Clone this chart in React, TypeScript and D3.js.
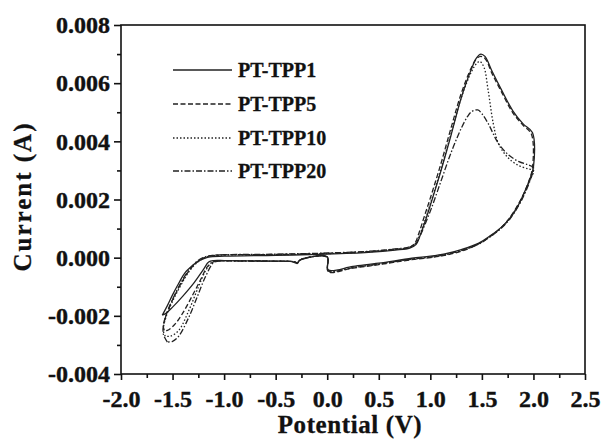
import React, { useEffect, useRef } from "react";
import * as d3 from "d3";

type P = [number, number];

// Potential (V), Current (A)
const tpp1: P[] = [
  [-1.60, -0.00198], [-1.55, -0.00165], [-1.50, -0.00128], [-1.44, -0.00088], [-1.38, -0.00052],
  [-1.30, -0.00025], [-1.25, -0.00012], [-1.20, -0.00004], [-1.15, 0.00002], [-1.00, 0.00005],
  [-0.50, 0.00008], [0.00, 0.00012], [0.40, 0.00018], [0.66, 0.00026], [0.80, 0.00033],
  [0.86, 0.00045], [0.90, 0.00075], [0.95, 0.00125], [1.00, 0.00180], [1.10, 0.00295],
  [1.20, 0.00420], [1.30, 0.00550], [1.40, 0.00650], [1.45, 0.00688], [1.49, 0.00700],
  [1.53, 0.00692], [1.60, 0.00640], [1.69, 0.00577], [1.80, 0.00505], [1.90, 0.00460],
  [1.99, 0.00430], [2.00, 0.00312], [1.96, 0.00265], [1.90, 0.00215], [1.85, 0.00178],
  [1.77, 0.00135], [1.69, 0.00105], [1.58, 0.00075], [1.47, 0.00050], [1.30, 0.00028],
  [1.14, 0.00013], [1.00, 0.00005], [0.82, -0.00002], [0.50, -0.00019], [0.25, -0.00030],
  [0.01, -0.00042], [0.00, 0.00003], [-0.21, -0.00002], [-0.27, -0.00010], [-0.29, -0.00020],
  [-0.31, -0.00018], [-0.36, -0.00013], [-0.50, -0.00012], [-0.80, -0.00011], [-1.00, -0.00010],
  [-1.10, -0.00010], [-1.15, -0.00015], [-1.20, -0.00040], [-1.30, -0.00090], [-1.40, -0.00132],
  [-1.50, -0.00170], [-1.56, -0.00190], [-1.60, -0.00198],
];

const tpp5: P[] = [
  [-1.58, -0.00250], [-1.59, -0.00235], [-1.56, -0.00195], [-1.50, -0.00145], [-1.42, -0.00090],
  [-1.34, -0.00045], [-1.26, -0.00015], [-1.18, 0.00002], [-1.10, 0.00008], [-0.50, 0.00011],
  [0.00, 0.00015], [0.40, 0.00021], [0.66, 0.00029], [0.80, 0.00036], [0.85, 0.00050],
  [0.89, 0.00085], [0.94, 0.00140], [1.00, 0.00205], [1.10, 0.00320], [1.20, 0.00445],
  [1.30, 0.00565], [1.40, 0.00655], [1.45, 0.00685], [1.49, 0.00692], [1.53, 0.00685],
  [1.60, 0.00632], [1.69, 0.00570], [1.80, 0.00498], [1.90, 0.00455], [1.98, 0.00425],
  [1.99, 0.00308], [1.95, 0.00258], [1.89, 0.00208], [1.83, 0.00170], [1.75, 0.00128],
  [1.67, 0.00098], [1.56, 0.00068], [1.45, 0.00044], [1.30, 0.00022], [1.14, 0.00008],
  [1.00, 0.00000], [0.82, -0.00007], [0.50, -0.00024], [0.25, -0.00036], [0.01, -0.00048],
  [0.00, 0.00001], [-0.21, -0.00001], [-0.27, -0.00009], [-0.29, -0.00017], [-0.32, -0.00014],
  [-0.50, -0.00012], [-0.80, -0.00011], [-1.05, -0.00011], [-1.10, -0.00014], [-1.16, -0.00030],
  [-1.22, -0.00070], [-1.30, -0.00125], [-1.40, -0.00190], [-1.48, -0.00230], [-1.55, -0.00250],
  [-1.58, -0.00250],
];

const tpp10: P[] = [
  [-1.57, -0.00270], [-1.59, -0.00250], [-1.56, -0.00200], [-1.50, -0.00150], [-1.42, -0.00095],
  [-1.34, -0.00048], [-1.26, -0.00016], [-1.18, 0.00001], [-1.10, 0.00007], [-0.50, 0.00010],
  [0.00, 0.00014], [0.40, 0.00020], [0.66, 0.00028], [0.80, 0.00035], [0.86, 0.00048],
  [0.90, 0.00080], [0.95, 0.00130], [1.00, 0.00185], [1.10, 0.00300], [1.20, 0.00425],
  [1.30, 0.00550], [1.40, 0.00640], [1.45, 0.00668], [1.48, 0.00675], [1.52, 0.00655],
  [1.56, 0.00577], [1.61, 0.00462], [1.66, 0.00393], [1.75, 0.00345], [1.85, 0.00318],
  [1.95, 0.00305], [2.00, 0.00300], [1.96, 0.00262], [1.90, 0.00212], [1.84, 0.00172],
  [1.76, 0.00130], [1.68, 0.00100], [1.57, 0.00070], [1.46, 0.00046], [1.30, 0.00024],
  [1.14, 0.00010], [1.00, 0.00002], [0.82, -0.00005], [0.50, -0.00022], [0.25, -0.00034],
  [0.01, -0.00046], [0.00, 0.00002], [-0.21, -0.00001], [-0.27, -0.00010], [-0.29, -0.00018],
  [-0.32, -0.00014], [-0.50, -0.00012], [-0.80, -0.00011], [-1.07, -0.00012], [-1.12, -0.00016],
  [-1.18, -0.00045], [-1.26, -0.00110], [-1.34, -0.00180], [-1.44, -0.00250], [-1.52, -0.00270],
  [-1.57, -0.00270],
];

const tpp20: P[] = [
  [-1.55, -0.00290], [-1.59, -0.00262], [-1.58, -0.00220], [-1.52, -0.00160], [-1.44, -0.00100],
  [-1.36, -0.00052], [-1.28, -0.00018], [-1.20, 0.00001], [-1.10, 0.00008], [-0.50, 0.00012],
  [0.00, 0.00016], [0.40, 0.00022], [0.66, 0.00030], [0.80, 0.00037], [0.86, 0.00050],
  [0.90, 0.00075], [1.00, 0.00160], [1.10, 0.00260], [1.20, 0.00360], [1.30, 0.00445],
  [1.36, 0.00485], [1.40, 0.00502], [1.46, 0.00508], [1.50, 0.00495], [1.56, 0.00462],
  [1.66, 0.00393], [1.76, 0.00353], [1.86, 0.00330], [1.95, 0.00319], [2.00, 0.00310],
  [1.97, 0.00268], [1.91, 0.00216], [1.85, 0.00175], [1.77, 0.00132], [1.69, 0.00102],
  [1.58, 0.00072], [1.47, 0.00047], [1.30, 0.00025], [1.14, 0.00010], [1.00, 0.00002],
  [0.82, -0.00005], [0.50, -0.00022], [0.25, -0.00034], [0.01, -0.00046], [0.00, 0.00002],
  [-0.21, -0.00001], [-0.27, -0.00010], [-0.29, -0.00018], [-0.32, -0.00014], [-0.50, -0.00013],
  [-0.80, -0.00012], [-1.05, -0.00012], [-1.10, -0.00016], [-1.18, -0.00065], [-1.26, -0.00134],
  [-1.34, -0.00203], [-1.44, -0.00270], [-1.50, -0.00288], [-1.55, -0.00290],
];

const seriesNames = ["PT-TPP1", "PT-TPP5", "PT-TPP10", "PT-TPP20"];
const seriesData = [tpp1, tpp5, tpp10, tpp20];
const dashes = ["none", "5,2.5", "1.5,2", "6,2,1.5,2"];

const xMajor = [-2.0, -1.5, -1.0, -0.5, 0.0, 0.5, 1.0, 1.5, 2.0, 2.5];
const xMinor = [-1.75, -1.25, -0.75, -0.25, 0.25, 0.75, 1.25, 1.75, 2.25];
const yMajor = [-0.004, -0.002, 0.0, 0.002, 0.004, 0.006, 0.008];
const yMinor = [-0.003, -0.001, 0.001, 0.003, 0.005, 0.007];

const W = 605;
const H = 444;
const L = 121, R = 585, T = 25, B = 374;
const FONT = "'Liberation Serif', 'Times New Roman', serif";

const fmtX = (d: d3.NumberValue) => d3.format(".1f")(d).replace("\u2212", "-");
const fmtY = (d: d3.NumberValue) => d3.format(".3f")(d).replace("\u2212", "-");

export default function App() {
  const ref = useRef<SVGSVGElement>(null);
  const x = d3.scaleLinear().domain([-2.0, 2.5]).range([L, R]);
  const y = d3.scaleLinear().domain([-0.004, 0.008]).range([B, T]);

  useEffect(() => {
    const svg = d3.select(ref.current);
    svg.selectAll(".ax").remove();
    const gx = svg.append("g").attr("class", "ax").attr("transform", `translate(0,${B})`);
    gx.call(d3.axisBottom(x).tickValues(xMajor).tickSize(6).tickPadding(4).tickFormat(fmtX));
    gx.call((g) => g.select(".domain").remove());
    const gxm = svg.append("g").attr("class", "ax").attr("transform", `translate(0,${B})`);
    gxm.call(d3.axisBottom(x).tickValues(xMinor).tickSize(4).tickFormat(() => ""));
    gxm.call((g) => g.select(".domain").remove());

    const gy = svg.append("g").attr("class", "ax").attr("transform", `translate(${L},0)`);
    gy.call(d3.axisLeft(y).tickValues(yMajor).tickSize(7).tickPadding(4).tickFormat(fmtY));
    gy.call((g) => g.select(".domain").remove());
    const gym = svg.append("g").attr("class", "ax").attr("transform", `translate(${L},0)`);
    gym.call(d3.axisLeft(y).tickValues(yMinor).tickSize(4).tickFormat(() => ""));
    gym.call((g) => g.select(".domain").remove());

    svg.selectAll(".ax line").attr("stroke", "#111").attr("stroke-width", 1.6);
    svg.selectAll(".ax text")
      .attr("fill", "#111")
      .attr("stroke", "#111")
      .attr("stroke-width", 0.4)
      .style("font-family", FONT)
      .style("font-weight", "bold")
      .style("font-size", "24px");
    gx.selectAll("text").attr("dy", "0.95em");
  }, []);

  const line = d3
    .line<P>()
    .x((d) => x(d[0]))
    .y((d) => y(d[1]))
    .curve(d3.curveCatmullRom.alpha(0.5));

  const legY = [70, 104, 138, 171];

  return (
    <svg ref={ref} width={W} height={H} style={{ position: "absolute", left: 0, top: 0, background: "#fff" }}>
      <rect x={0} y={0} width={W} height={H} fill="#fff" />
      {seriesData.map((s, i) => (
        <path
          key={i}
          d={line(s) || ""}
          fill="none"
          stroke="#222"
          strokeWidth={1.3}
          strokeDasharray={dashes[i]}
        />
      ))}
      <rect x={L} y={T} width={R - L} height={B - T} fill="none" stroke="#111" strokeWidth={1.6} />
      {seriesNames.map((n, i) => (
        <g key={n}>
          <line x1={173} x2={232} y1={legY[i]} y2={legY[i]} stroke="#222" strokeWidth={1.3} strokeDasharray={dashes[i]} />
          <text x={238} y={legY[i]} dy="0.35em" fontFamily={FONT} fontWeight="bold" fontSize={20} fill="#111" stroke="#111" strokeWidth={0.3}>
            {n}
          </text>
        </g>
      ))}
      <text x={(L + R) / 2 - 3} y={433} textAnchor="middle" fontFamily={FONT} fontWeight="bold" fontSize={25} letterSpacing={0.6} fill="#111" stroke="#111" strokeWidth={0.3}>
        Potential (V)
      </text>
      <text
        transform={`translate(31,${(T + B) / 2 - 3}) rotate(-90)`}
        textAnchor="middle"
        fontFamily={FONT}
        fontWeight="bold"
        fontSize={25}
        letterSpacing={2}
        fill="#111"
        stroke="#111"
        strokeWidth={0.3}
      >
        Current (A)
      </text>
    </svg>
  );
}
